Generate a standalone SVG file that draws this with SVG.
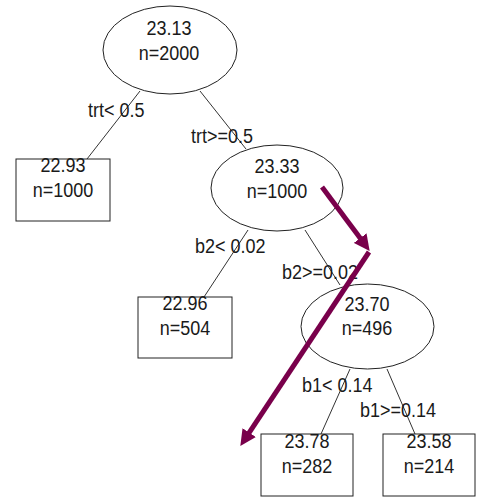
<svg xmlns="http://www.w3.org/2000/svg" width="483" height="502" viewBox="0 0 483 502">
  <style>
    .node { fill: #ffffff; stroke: #222222; stroke-width: 1; }
    .edge { stroke: #333333; stroke-width: 1; fill: none; }
    text { font-family: "Liberation Sans", Arial, sans-serif; font-size: 18px; fill: #1a1a1a;
           transform-box: fill-box; transform-origin: 50% 80%; transform: scaleY(1.1); }
    .val { text-anchor: middle; }
    .path-arrow { stroke: #79004b; stroke-width: 5; fill: none; }
  </style>
  <defs>
    <marker id="head" markerUnits="userSpaceOnUse" markerWidth="16" markerHeight="16" viewBox="0 0 14 14" refX="6" refY="7" orient="auto">
      <path d="M0,0 L14,7 L0,14 z" fill="#79004b"/>
    </marker>
  </defs>
  <rect width="483" height="502" fill="#ffffff"/>

  <!-- split edges with their rule labels -->
  <g id="connectors">
    <line class="edge" x1="140" y1="91" x2="87" y2="159"/>
    <line class="edge" x1="200" y1="91" x2="246" y2="149"/>
    <line class="edge" x1="248" y1="230" x2="204" y2="297"/>
    <line class="edge" x1="305" y1="230" x2="340" y2="285"/>
    <line class="edge" x1="350" y1="369" x2="321" y2="434"/>
    <line class="edge" x1="387" y1="369" x2="415" y2="434"/>
    <text x="88" y="117">trt&lt; 0.5</text>
    <text x="191" y="143">trt&gt;=0.5</text>
    <text x="195" y="253">b2&lt; 0.02</text>
    <text x="282" y="279">b2&gt;=0.02</text>
    <text x="302" y="392">b1&lt; 0.14</text>
    <text x="360" y="417">b1&gt;=0.14</text>
  </g>

  <g id="root">
    <ellipse class="node" cx="170" cy="50" rx="67" ry="44"/>
    <text class="val" x="169" y="35">23.13</text>
    <text class="val" x="169" y="60">n=2000</text>
  </g>

  <g id="leaf-trt-low">
    <rect class="node" x="16" y="159" width="94" height="62"/>
    <text class="val" x="63" y="172">22.93</text>
    <text class="val" x="63" y="197">n=1000</text>
  </g>

  <g id="split-b2">
    <ellipse class="node" cx="277" cy="188" rx="66" ry="43"/>
    <text class="val" x="277" y="173">23.33</text>
    <text class="val" x="277" y="198">n=1000</text>
  </g>

  <g id="leaf-b2-low">
    <rect class="node" x="138" y="297" width="94" height="61"/>
    <text class="val" x="185" y="310">22.96</text>
    <text class="val" x="185" y="335">n=504</text>
  </g>

  <g id="split-b1">
    <ellipse class="node" cx="367.5" cy="326.5" rx="66.5" ry="42.5"/>
    <text class="val" x="367" y="311">23.70</text>
    <text class="val" x="367" y="335">n=496</text>
  </g>

  <g id="leaf-b1-low">
    <rect class="node" x="261" y="434" width="92" height="62"/>
    <text class="val" x="307" y="448">23.78</text>
    <text class="val" x="307" y="473">n=282</text>
  </g>

  <g id="leaf-b1-high">
    <rect class="node" x="383" y="434" width="92" height="62"/>
    <text class="val" x="429" y="448">23.58</text>
    <text class="val" x="429" y="473">n=214</text>
  </g>

  <!-- highlighted traversal path -->
  <g id="traversal">
    <line class="path-arrow" x1="322" y1="187" x2="364.2" y2="243.6" marker-end="url(#head)"/>
    <line class="path-arrow" x1="369" y1="252" x2="245.4" y2="438.3" marker-end="url(#head)"/>
  </g>
</svg>
